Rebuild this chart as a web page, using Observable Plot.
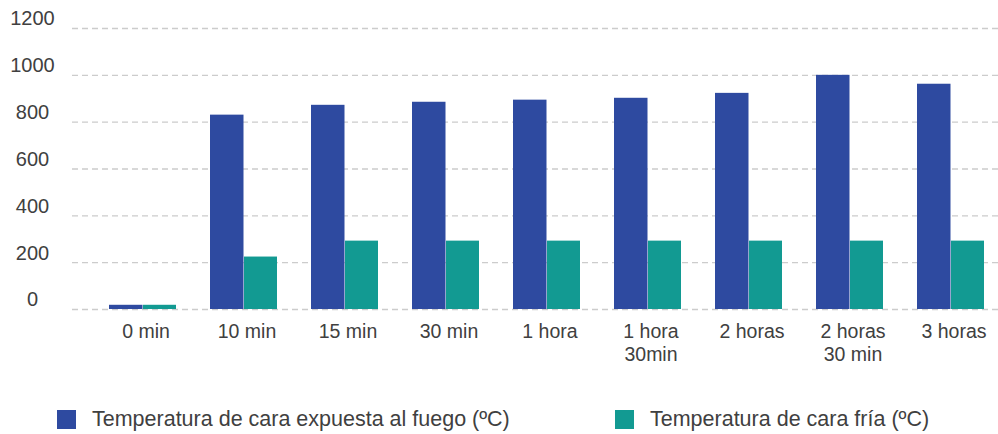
<!DOCTYPE html>
<html>
<head>
<meta charset="utf-8">
<script src="https://cdn.jsdelivr.net/npm/d3@7"></script>
<script src="https://cdn.jsdelivr.net/npm/@observablehq/plot@0.6"></script>
<style>
  html, body { margin: 0; padding: 0; background: #fff; }
  body { width: 998px; height: 434px; overflow: hidden; font-family: "Liberation Sans", Arial, sans-serif; }
  #legend { position: relative; height: 54px; color: #404040; font-size: 21.5px; }
  .item { position: absolute; top: 28px; display: flex; align-items: center; line-height: 23px; }
  .sw { width: 19px; height: 19px; margin-right: 16px; }
</style>
</head>
<body>
<div id="chart"></div>
<div id="legend"></div>
<script>
const categories = ["0 min", "10 min", "15 min", "30 min", "1 hora", "1 hora\n30min", "2 horas", "2 horas\n30 min", "3 horas"];
const hotFace = [18, 830, 872, 885, 894, 902, 923, 1000, 962];
const coldFace = [18, 224, 292, 292, 292, 292, 292, 292, 292];
const seriesNames = ["Temperatura de cara expuesta al fuego (ºC)", "Temperatura de cara fría (ºC)"];
const colors = ["#2e4aa0", "#129a92"];
const yTicks = [0, 200, 400, 600, 800, 1000, 1200];

const rows = categories.map((c, i) => ({cat: c, hot: hotFace[i], cold: coldFace[i]}));
const textColor = "#404040";

const chart = Plot.plot({
  width: 998,
  height: 380,
  marginLeft: 72,
  marginRight: 0,
  marginTop: 28,
  marginBottom: 71,
  style: {fontFamily: "'Liberation Sans', Arial, sans-serif", color: textColor, background: "#fff"},
  x: {type: "band", domain: categories, range: [106, 988], paddingInner: 0.332, paddingOuter: 0, axis: null, label: null},
  y: {domain: [0, 1200], axis: null},
  marks: [
    Plot.ruleY(yTicks, {stroke: "#cccccc", strokeWidth: 1.4, strokeDasharray: "6,4"}),
    Plot.barY(rows, {x: "cat", y: "hot", fill: colors[0], insetRight: 33.5}),
    Plot.barY(rows, {x: "cat", y: "cold", fill: colors[1], insetLeft: 34}),
    Plot.text(yTicks, {y: d => d, text: d => String(d), frameAnchor: "left", dx: -40, dy: -9.5, textAnchor: "middle", fontSize: 20, fill: textColor}),
    Plot.axisX({tickSize: 0, tickPadding: 13, fontSize: 19.5, fill: textColor, dx: 3, lineHeight: 1.15, label: null})
  ]
});
document.getElementById("chart").appendChild(chart);

const legend = document.getElementById("legend");
const lefts = [57, 615];
seriesNames.forEach((name, i) => {
  const it = document.createElement("div");
  it.className = "item";
  it.style.left = lefts[i] + "px";
  const sw = document.createElement("span");
  sw.className = "sw";
  sw.style.background = colors[i];
  const tx = document.createElement("span");
  tx.textContent = name;
  it.appendChild(sw);
  it.appendChild(tx);
  legend.appendChild(it);
});
</script>
</body>
</html>
